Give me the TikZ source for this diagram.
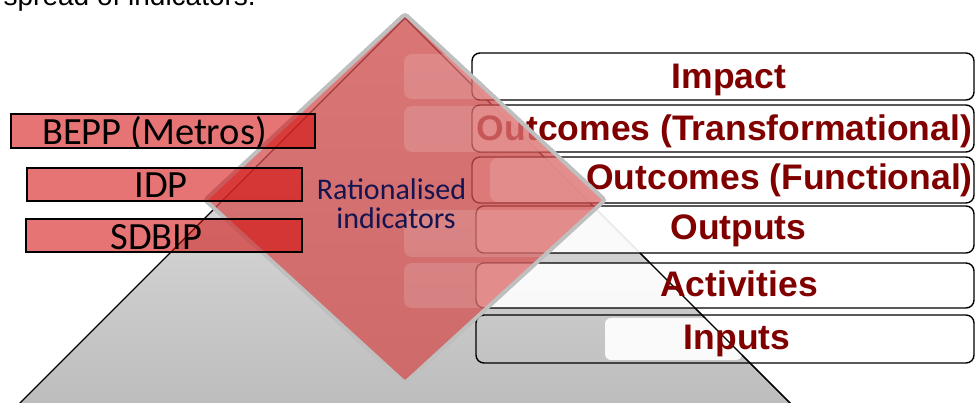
\documentclass[tikz,border=0pt]{standalone}
\usepackage{fontspec}
\setmainfont{Liberation Sans}
\newfontfamily\carlito{Carlito}
\definecolor{darkred}{RGB}{128,0,0}
\definecolor{lred}{RGB}{213,10,10}
\definecolor{dmd}{RGB}{212,78,78}
\definecolor{dmdborder}{RGB}{191,191,191}
\definecolor{navy}{RGB}{20,20,80}
\definecolor{tritop}{RGB}{238,238,238}
\definecolor{tribot}{RGB}{186,186,186}
\begin{document}
\begin{tikzpicture}[x=1pt,y=-1pt,
  rbox/.style={draw=black,line width=1.4pt,rounded corners=8pt,fill=white,fill opacity=0.9},
  rtext/.style={inner sep=0pt,anchor=base,text=darkred,font=\fontsize{35.5}{40}\selectfont\bfseries},
  lbox/.style={draw=black,line width=1.8pt,fill=lred,fill opacity=0.57},
  ltext/.style={inner sep=0pt,anchor=base,font=\carlito\fontsize{38.5}{42}\selectfont},
  ctext/.style={inner sep=0pt,anchor=base,text=navy,font=\carlito\fontsize{30}{30}\selectfont},
  ghost/.style={fill=white,fill opacity=0.15,rounded corners=8pt}]
\useasboundingbox (0,0) rectangle (975,403);
% pyramid
\shade[top color=tritop,bottom color=tribot] (405,18) -- (-5,428) -- (815,428) -- cycle;
\draw[line width=1.2pt] (-5,428) -- (405,18) -- (815,428);
% right boxes
\path[rbox] (472,53) rectangle (974,100);
\path[rbox] (472,105) rectangle (974,152);
\path[rbox] (472,157) rectangle (974,203);
\path[rbox] (476,206) rectangle (974,253);
\path[rbox] (476,263) rectangle (974,308);
\fill[white,fill opacity=0.92,rounded corners=6pt] (605,318) rectangle (742,360);
\draw[line width=1.4pt,rounded corners=8pt] (476,315) rectangle (974,363);
\draw[line width=1.2pt] (640,253) -- (815,428);
\node[rtext] (impact) at (729,89) {Impact};
\node[rtext] (outT) at (724.5,141) {Outcomes (Transformational)};
\node[rtext] (outF) at (779.5,190) {Outcomes (Functional)};
\node[rtext] (outputs) at (738.5,240) {Outputs};
\node[rtext] (activities) at (739,297) {Activities};
\node[rtext] (inputs) at (737,350) {Inputs};
% diamond
\fill[dmd,fill opacity=0.75,rounded corners=3pt] (405,14) -- (605,200) -- (405,383) -- (205,200) -- cycle;
\begin{scope}
\clip (405,14) -- (605,200) -- (405,383) -- (205,200) -- cycle;
\fill[ghost] (404,54) rectangle (620,99);
\fill[ghost] (404,106) rectangle (620,152);
\fill[ghost] (490,158) rectangle (620,202);
\fill[ghost] (404,210) rectangle (620,257);
\fill[ghost] (404,263) rectangle (620,308);
\end{scope}
\draw[dmdborder,line width=4pt,rounded corners=3pt] (405,14) -- (605,200) -- (405,383) -- (205,200) -- cycle;
\node[ctext] (rat) at (391.5,200) {Rationalised};
\node[ctext] (ind) at (396,229) {indicators};
% left boxes
\draw[lbox] (11,114) rectangle (315,148);
\draw[lbox] (27,168) rectangle (302,201);
\draw[lbox] (26,219) rectangle (302,252);
\node[ltext] (bepp) at (154.5,145) {BEPP (Metros)};
\node[ltext] (idp) at (161,198) {IDP};
\node[ltext] (sdbip) at (156.5,250) {SDBIP};
% cut-off heading
\node[inner sep=0pt,anchor=base east,font=\fontsize{28}{30}\selectfont] (head) at (256,5.5) {spread of indicators.};
\end{tikzpicture}
\end{document}
